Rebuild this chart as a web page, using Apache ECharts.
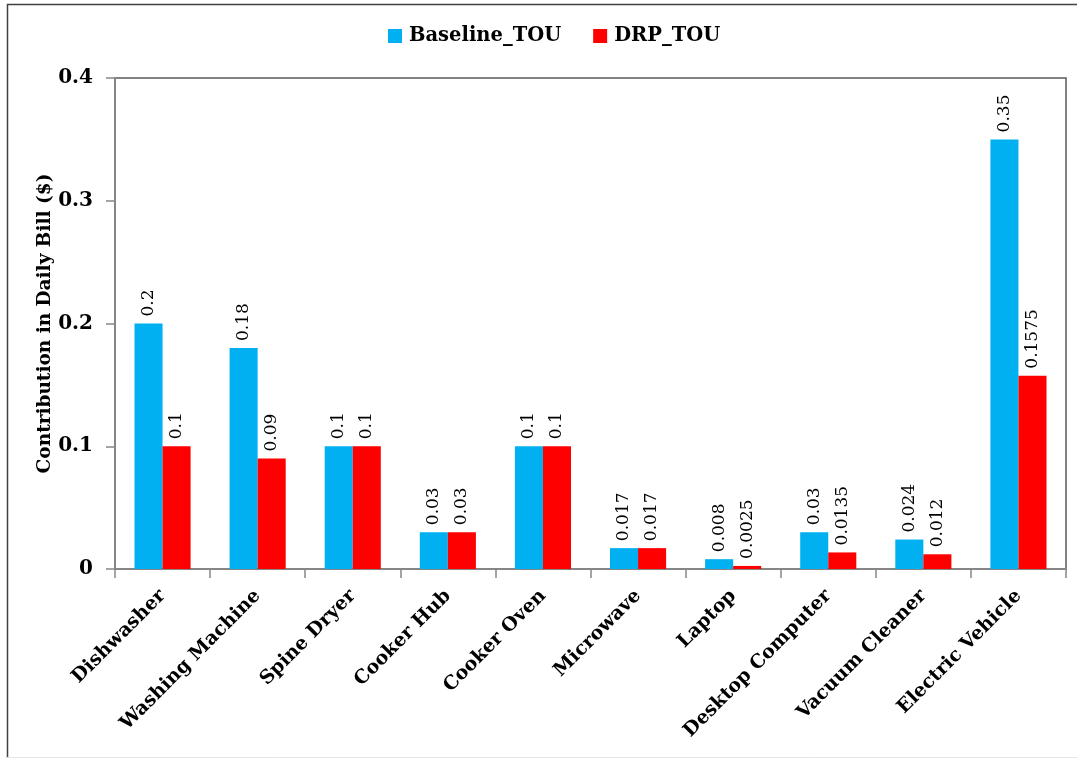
<!DOCTYPE html>
<html>
<head>
<meta charset="utf-8">
<script src="https://cdn.jsdelivr.net/npm/echarts@6/dist/echarts.min.js"></script>
<style>
  html, body { margin: 0; padding: 0; background: #fff; }
  #chart { width: 1077px; height: 758px; }
</style>
</head>
<body>
<div id="chart"></div>
<script>
// Appliances and their contribution to the daily bill ($)
const appliances = ['Dishwasher', 'Washing Machine', 'Spine Dryer', 'Cooker Hub', 'Cooker Oven',
  'Microwave', 'Laptop', 'Desktop Computer', 'Vacuum Cleaner', 'Electric Vehicle'];
const baselineTOU = [0.2, 0.18, 0.1, 0.03, 0.1, 0.017, 0.008, 0.03, 0.024, 0.35];
const drpTOU = [0.1, 0.09, 0.1, 0.03, 0.1, 0.017, 0.0025, 0.0135, 0.012, 0.1575];
const yTicks = [0, 0.1, 0.2, 0.3, 0.4];

const serif = '"DejaVu Serif", "Liberation Serif", serif';
const chart = echarts.init(document.getElementById('chart'));

const valueLabel = {
  show: true,
  position: 'top',
  rotate: 90,
  align: 'left',
  verticalAlign: 'middle',
  distance: 7,
  fontFamily: serif,
  fontSize: 17,
  color: '#000',
  formatter: p => String(p.value)
};

chart.setOption({
  animation: false,
  graphic: [
    {
      type: 'polyline',
      shape: { points: [[1077, 4.5], [7.5, 4.5], [7.5, 758]] },
      style: { fill: 'none', stroke: '#404040', lineWidth: 1.5 },
      silent: true
    },
    {
      type: 'line',
      shape: { x1: 7, y1: 757.5, x2: 1077, y2: 757.5 },
      style: { stroke: '#e4e4e4', lineWidth: 1 },
      silent: true
    }
  ],
  legend: {
    top: 21,
    left: 383,
    itemWidth: 14,
    itemHeight: 14,
    itemGap: 32,
    icon: 'rect',
    textStyle: { fontFamily: serif, fontWeight: 'bold', fontSize: 19.5, color: '#000', padding: [0, 0, 0, 2] },
    data: ['Baseline_TOU', 'DRP_TOU']
  },
  grid: {
    left: 115, right: 11, top: 78, bottom: 189,
    show: true, borderColor: '#595959', borderWidth: 1.5,
    containLabel: false
  },
  xAxis: {
    type: 'category',
    data: appliances,
    axisLine: { lineStyle: { color: '#868686', width: 2 } },
    axisTick: { show: true, length: 9, lineStyle: { color: '#868686', width: 1.5 } },
    axisLabel: {
      interval: 0,
      rotate: 45,
      margin: 24,
      fontFamily: serif,
      fontWeight: 'bold',
      fontSize: 19,
      color: '#000'
    }
  },
  yAxis: {
    type: 'value',
    min: yTicks[0],
    max: yTicks[yTicks.length - 1],
    interval: 0.1,
    name: 'Contribution in Daily Bill ($)',
    nameLocation: 'middle',
    nameGap: 60,
    nameMoveOverlap: false,
    nameTextStyle: { fontFamily: serif, fontWeight: 'bold', fontSize: 18.5, color: '#000' },
    axisLine: { show: true, lineStyle: { color: '#868686', width: 2 } },
    axisTick: { show: true, length: 9, lineStyle: { color: '#868686', width: 1.5 } },
    splitLine: { show: false },
    axisLabel: {
      margin: 22,
      fontFamily: serif,
      fontWeight: 'bold',
      fontSize: 20,
      color: '#000',
      formatter: v => String(+v.toFixed(2))
    }
  },
  series: [
    {
      name: 'Baseline_TOU',
      type: 'bar',
      data: baselineTOU,
      barGap: '0%',
      barCategoryGap: '41%',
      itemStyle: { color: '#00B0F0' },
      label: valueLabel
    },
    {
      name: 'DRP_TOU',
      type: 'bar',
      data: drpTOU,
      barGap: '0%',
      barCategoryGap: '41%',
      itemStyle: { color: '#FF0000' },
      label: valueLabel
    }
  ]
});
</script>
</body>
</html>
